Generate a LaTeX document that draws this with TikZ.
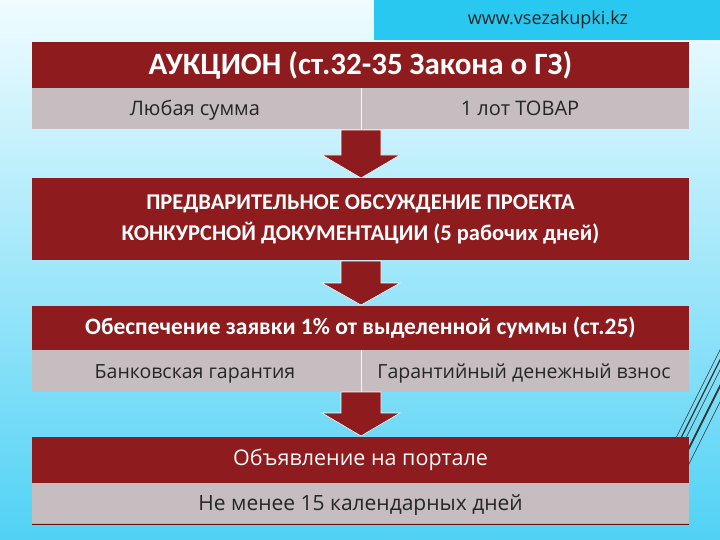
\documentclass[tikz,border=0pt]{standalone}
\usepackage{fontspec}
\setmainfont{Open Sans}
\newfontfamily\hdfont{Carlito}
\begin{document}
\begin{tikzpicture}[x=1pt,y=-1pt,
  redbox/.style={fill=boxred,draw=none},
  greybox/.style={fill=boxgrey,draw=none},
  htext/.style={text=white,align=center},
  gtext/.style={text=black!85,anchor=base,font=\fontsize{20}{24}\selectfont},
  arr/.style={fill=boxred,draw=white,line width=0.6pt}]
\definecolor{boxred}{RGB}{142,27,29}
\definecolor{boxgrey}{RGB}{197,189,191}
\definecolor{cy}{RGB}{40,200,240}
\definecolor{bgtop}{RGB}{240,252,255}
\definecolor{bgbot}{RGB}{80,210,245}
\useasboundingbox (0,0) rectangle (720,540);
\shade[top color=bgtop,bottom color=bgbot] (0,0) rectangle (720,540);
% decorative diagonal lines
\foreach \dx/\w in {0/0.5,5/1.2,10/0.5,18/1.8,26/0.5}
  \draw[black!80,line width=\w pt] (750+\dx,290) -- (640+\dx,510);
% site box
\fill[cy] (374,0) rectangle (720,40);
\node[font=\fontsize{18}{20}\selectfont,text=black!85] (site) at (548,20) {www.vsezakupki.kz};
% box 1
\node[redbox,minimum width=657,minimum height=46,inner sep=0] (h1) at (360.5,65) {};
\node[htext,font=\hdfont\bfseries\fontsize{31}{34}\selectfont] at (h1) {АУКЦИОН (ст.32-35 Закона о ГЗ)};
\node[greybox,minimum width=657,minimum height=41,inner sep=0] (g1) at (360.5,108.5) {};
\draw[white!85!boxgrey] (361,88) -- (361,129);
\node[gtext] (g1a) at (195,115.5) {Любая сумма};
\node[gtext] (g1b) at (520,115.5) {1 лот ТОВАР};
% arrow 1
\filldraw[arr] (341,130) -- (381,130) -- (381,155) -- (400,155) -- (361,178) -- (322,155) -- (341,155) -- cycle;
% box 2
\node[redbox,minimum width=657,minimum height=82,inner sep=0] (h2) at (360.5,219) {};
\node[htext,font=\hdfont\bfseries\fontsize{22.5}{31}\selectfont] at (h2) {ПРЕДВАРИТЕЛЬНОЕ ОБСУЖДЕНИЕ ПРОЕКТА\\КОНКУРСНОЙ ДОКУМЕНТАЦИИ (5 рабочих дней)};
% arrow 2
\filldraw[arr] (341,261) -- (381,261) -- (381,283) -- (400,283) -- (361,305) -- (322,283) -- (341,283) -- cycle;
% box 3
\node[redbox,minimum width=657,minimum height=44,inner sep=0] (h3) at (360.5,328) {};
\node[htext,font=\hdfont\bfseries\fontsize{23.5}{26}\selectfont] at (h3) {Обеспечение заявки 1\% от выделенной суммы (ст.25)};
\node[greybox,minimum width=657,minimum height=42,inner sep=0] (g3) at (360.5,371) {};
\draw[white!85!boxgrey] (361,350) -- (361,392);
\node[gtext,font=\fontsize{19.5}{22}\selectfont] (g3a) at (195,378) {Банковская гарантия};
\node[gtext,font=\fontsize{19.5}{22}\selectfont] (g3b) at (524,378) {Гарантийный денежный взнос};
% arrow 3
\filldraw[arr] (341,392) -- (381,392) -- (381,413) -- (400,413) -- (361,436) -- (322,413) -- (341,413) -- cycle;
% box 4
\node[redbox,minimum width=657,minimum height=46,inner sep=0] (h4) at (360.5,460) {};
\node[text=white!90!boxgrey,font=\fontsize{21.5}{24}\selectfont] at (h4) {Объявление на портале};
\node[greybox,minimum width=657,minimum height=40,inner sep=0] (g4) at (360.5,503) {};
\node[gtext,font=\fontsize{21}{24}\selectfont] at (360.5,510) {Не менее 15 календарных дней};
\draw[boxred!70!black,line width=0.8pt] (32,524) -- (689,524);
\end{tikzpicture}
\end{document}
